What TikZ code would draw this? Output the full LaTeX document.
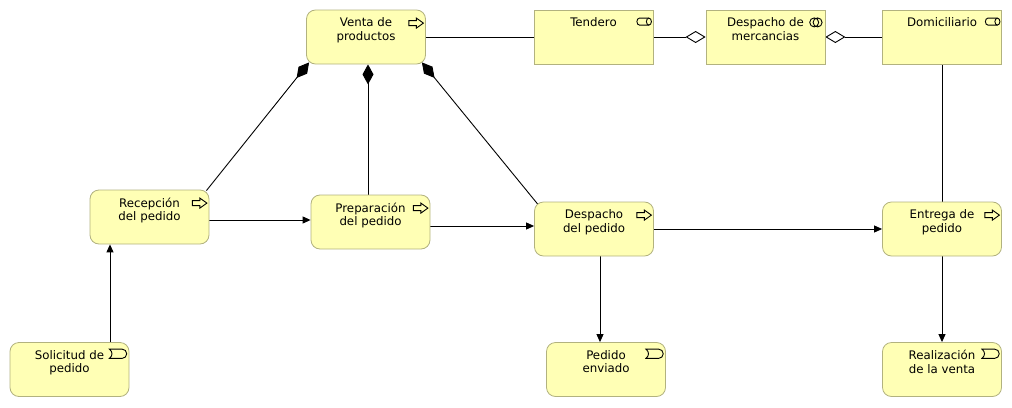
\documentclass[tikz,border=0pt]{standalone}
\usepackage{fontspec}
\setmainfont{DejaVu Sans}
\usetikzlibrary{positioning}
\usetikzlibrary{arrows.meta}
\usetikzlibrary{backgrounds}

\definecolor{archifill}{RGB}{255,255,181}
\definecolor{archiline}{RGB}{178,178,127}

\tikzset{
	icon/.style={draw=black,line width=0.9pt,fill=archifill},
	proc icon/.pic={\draw[icon] (-17,11)--(-9.5,11)--(-9.5,8.5)--(-2.5,13.5)--(-9.5,18.5)--(-9.5,16)--(-17,16)--cycle;},
	event icon/.pic={\draw[icon] (-20,7)--(-7.3,7) arc (-90:90:4.65)--(-20,16.3) .. controls (-16.5,13.5) and (-16.5,9.8) .. (-20,7) -- cycle;},
	role icon/.pic={\draw[icon] (-4.5,8.5)--(-14,8.5) arc (-90:-270:2.5 and 3.5)--(-4.5,15.5);
		\draw[icon] (-4.5,12) ellipse (2.5 and 3.5);},
	collab icon/.pic={\draw[icon,fill=none] (-11.2,12.8) circle (4.5) (-7.8,12.8) circle (4.5);},
}

\begin{document}
\begin{tikzpicture}[x=1pt,y=-1pt,>={Triangle[length=8pt,width=7pt]},
	elem/.style={draw=archiline,fill=archifill,line width=0.8pt,minimum width=119pt,minimum height=54pt,inner sep=0pt},
	proc/.style={elem,rounded corners=9pt},
	txt/.style={anchor=north,yshift=-8pt,align=center,inner sep=0pt,font=\fontsize{11.8}{13.6}\selectfont},
	comp/.style={{Diamond[length=20pt,width=11pt]}-},
	aggr/.style={{Diamond[open,length=20pt,width=12pt]}-}]
	
	\useasboundingbox (0,0) rectangle (1012,407);
	
	\node[proc,label={[txt]north:Venta de\\productos}]    (venta)   at (366,37)    {};
	\node[elem,label={[txt]north:Tendero}]                (tendero) at (593.5,37)  {};
	\node[elem,label={[txt]north:Despacho de\\mercancias}] (despm)  at (765.5,37)  {};
	\node[elem,label={[txt]north:Domiciliario}]           (domic)   at (942,37)    {};
	\node[proc,label={[txt]north:Recepción\\del pedido}]   (recep)  at (149.5,217) {};
	\node[proc,label={[txt]north:Preparación\\del pedido}] (prep)   at (370.5,222) {};
	\node[proc,label={[txt]north:Despacho\\del pedido}]    (despp)  at (594,229)   {};
	\node[proc,label={[txt]north:Entrega de\\pedido}]      (entrega) at (942,229)  {};
	\node[proc,label={[txt]north:Solicitud de\\pedido}]    (solic)  at (69.5,369.5) {};
	\node[proc,label={[txt]north:Pedido\\enviado}]         (pedido) at (606,369.5) {};
	\node[proc,label={[txt]north:Realización\\de la venta}] (realiz) at (942,369.5) {};
	
	% icons in the upper right corner
	\foreach \n in {venta,recep,prep,despp,entrega} \pic at (\n.north east) {proc icon};
	\foreach \n in {solic,pedido,realiz} \pic at (\n.north east) {event icon};
	\foreach \n in {tendero,domic} \pic at (\n.north east) {role icon};
	\pic at (despm.north east) {collab icon};
	
	\begin{scope}[on background layer]
	\path[line width=0.9pt]
	(venta) edge (tendero)
	(despm) edge[aggr] (tendero)
	edge[aggr] (domic)
	(domic) edge (entrega)
	([shift={(3,-2)}]venta.south west) edge[comp] ([shift={(-3,1)}]recep.north east)
	([xshift=2pt]venta.south) edge[comp] ([xshift=-2.5pt]prep.north)
	([shift={(-4,-2)}]venta.south east) edge[comp] ([shift={(4,3)}]despp.north west)
	([yshift=-3pt]recep.east) edge[->] ([yshift=2pt]prep.west)
	([yshift=-4pt]prep.east) edge[->] ([yshift=3pt]despp.west)
	(despp) edge[->] (entrega)
	([xshift=40.5pt]solic.north) edge[->] ([xshift=-39.5pt]recep.south)
	([xshift=6pt]despp.south) edge[->] ([xshift=-6pt]pedido.north)
	(entrega) edge[->] (realiz)
	;
	\end{scope}
\end{tikzpicture}
\end{document}
